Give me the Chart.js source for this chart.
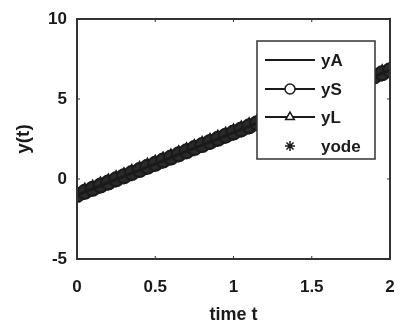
<!DOCTYPE html>
<html>
<head>
<meta charset="utf-8">
<script src="https://cdn.jsdelivr.net/npm/chart.js@4"></script>
<style>
  html, body { margin: 0; padding: 0; background: #fff; }
  #wrap { width: 400px; height: 330px; }
</style>
</head>
<body>
<div id="wrap"><canvas id="odeChart" width="400" height="330"></canvas></div>
<script>
// sample times
const tVals = [0, 0.05, 0.1, 0.15, 0.2, 0.25, 0.3, 0.35, 0.4, 0.45, 0.5, 0.55, 0.6, 0.65,
  0.7, 0.75, 0.8, 0.85, 0.9, 0.95, 1, 1.05, 1.1, 1.15, 1.2, 1.25, 1.3, 1.35, 1.4, 1.45,
  1.5, 1.55, 1.6, 1.65, 1.7, 1.75, 1.8, 1.85, 1.9, 1.95, 2];

// analytic solution and the numerical ones all lie on top of each other
const yA = [-1.00, -0.80, -0.61, -0.41, -0.22, -0.02, 0.17, 0.37, 0.56, 0.76, 0.95, 1.15,
  1.34, 1.54, 1.73, 1.93, 2.12, 2.32, 2.51, 2.71, 2.90, 3.10, 3.29, 3.49, 3.68, 3.88, 4.07,
  4.27, 4.46, 4.66, 4.85, 5.05, 5.24, 5.44, 5.63, 5.83, 6.02, 6.22, 6.41, 6.61, 6.80];
const yS = [-1.00, -0.80, -0.61, -0.41, -0.22, -0.02, 0.17, 0.37, 0.56, 0.76, 0.95, 1.15,
  1.34, 1.54, 1.73, 1.93, 2.12, 2.32, 2.51, 2.71, 2.90, 3.10, 3.29, 3.49, 3.68, 3.88, 4.07,
  4.27, 4.46, 4.66, 4.85, 5.05, 5.24, 5.44, 5.63, 5.83, 6.02, 6.22, 6.41, 6.61, 6.80];
const yL = [-1.00, -0.80, -0.61, -0.41, -0.22, -0.02, 0.17, 0.37, 0.56, 0.76, 0.95, 1.15,
  1.34, 1.54, 1.73, 1.93, 2.12, 2.32, 2.51, 2.71, 2.90, 3.10, 3.29, 3.49, 3.68, 3.88, 4.07,
  4.27, 4.46, 4.66, 4.85, 5.05, 5.24, 5.44, 5.63, 5.83, 6.02, 6.22, 6.41, 6.61, 6.80];
const yode = [-1.00, -0.80, -0.61, -0.41, -0.22, -0.02, 0.17, 0.37, 0.56, 0.76, 0.95, 1.15,
  1.34, 1.54, 1.73, 1.93, 2.12, 2.32, 2.51, 2.71, 2.90, 3.10, 3.29, 3.49, 3.68, 3.88, 4.07,
  4.27, 4.46, 4.66, 4.85, 5.05, 5.24, 5.44, 5.63, 5.83, 6.02, 6.22, 6.41, 6.61, 6.80];

const xTicks = [0, 0.5, 1, 1.5, 2];
const yTicks = [-5, 0, 5, 10];
const seriesNames = ["yA", "yS", "yL", "yode"];

const INK = "#1a1a1a";
const FONT = "'Liberation Sans', Arial, sans-serif";

function pts(ys) {
  return tVals.map((t, i) => ({ x: t, y: ys[i] }));
}

// MATLAB-like box, inward ticks and the legend inside the axes
const matlabBox = {
  id: "matlabBox",
  afterDraw(chart) {
    const ctx = chart.ctx;
    const a = chart.chartArea;
    const xs = chart.scales.x;
    const ys = chart.scales.y;
    ctx.save();
    ctx.strokeStyle = "#333";
    ctx.lineWidth = 2;
    ctx.strokeRect(a.left, a.top, a.right - a.left, a.bottom - a.top);
    ctx.lineWidth = 1;
    xTicks.forEach((v) => {
      const px = xs.getPixelForValue(v);
      ctx.beginPath();
      ctx.moveTo(px, a.bottom); ctx.lineTo(px, a.bottom - 3);
      ctx.moveTo(px, a.top); ctx.lineTo(px, a.top + 3);
      ctx.stroke();
    });
    yTicks.forEach((v) => {
      const py = ys.getPixelForValue(v);
      ctx.beginPath();
      ctx.moveTo(a.left, py); ctx.lineTo(a.left + 3, py);
      ctx.moveTo(a.right, py); ctx.lineTo(a.right - 3, py);
      ctx.stroke();
    });

    // legend
    const bx = 257, by = 41, bw = 118, bh = 118;
    ctx.fillStyle = "#fff";
    ctx.fillRect(bx, by, bw, bh);
    ctx.strokeStyle = "#333";
    ctx.lineWidth = 1.5;
    ctx.strokeRect(bx, by, bw, bh);
    const rowsY = [60, 89, 117, 146];
    ctx.font = "bold 17px " + FONT;
    ctx.textBaseline = "middle";
    ctx.textAlign = "left";
    seriesNames.forEach((name, i) => {
      const y = rowsY[i];
      ctx.strokeStyle = INK;
      ctx.lineWidth = 2;
      if (i < 3) {
        ctx.beginPath();
        ctx.moveTo(265, y); ctx.lineTo(315, y);
        ctx.stroke();
      }
      const ds = chart.data.datasets[i];
      if (i > 0) {
        ctx.fillStyle = "#fff";
        ctx.strokeStyle = INK;
        ctx.lineWidth = 1.5;
        Chart.helpers.drawPoint(ctx, {
          pointStyle: ds.pointStyle,
          radius: 5,
          borderWidth: 1.5,
        }, 290, y);
      }
      ctx.fillStyle = INK;
      ctx.fillText(name, 321, y + 1);
    });
    ctx.restore();
  },
};

const ctx = document.getElementById("odeChart").getContext("2d");
new Chart(ctx, {
  type: "scatter",
  data: {
    datasets: [
      {
        label: "yA",
        data: pts(yA),
        showLine: true,
        borderColor: INK,
        borderWidth: 3,
        pointRadius: 0,
      },
      {
        label: "yS",
        data: pts(yS),
        showLine: true,
        borderColor: INK,
        borderWidth: 2,
        pointStyle: "circle",
        pointRadius: 7,
        pointBorderWidth: 2,
        pointBorderColor: INK,
        pointBackgroundColor: "#2a2a2a",
      },
      {
        label: "yL",
        data: pts(yL),
        showLine: true,
        borderColor: INK,
        borderWidth: 2,
        pointStyle: "triangle",
        pointRadius: 8,
        pointBorderWidth: 2,
        pointBorderColor: INK,
        pointBackgroundColor: "#2a2a2a",
      },
      {
        label: "yode",
        data: pts(yode),
        showLine: false,
        pointStyle: "star",
        pointRadius: 7,
        pointBorderWidth: 2,
        pointBorderColor: INK,
      },
    ],
  },
  options: {
    responsive: false,
    animation: false,
    layout: { padding: { top: 19, right: 6, left: 0, bottom: 0 } },
    plugins: {
      legend: { display: false },
      tooltip: { enabled: false },
    },
    scales: {
      x: {
        type: "linear",
        min: 0,
        max: 2,
        afterBuildTicks(scale) {
          scale.ticks = xTicks.map((v) => ({ value: v }));
        },
        afterFit(scale) {
          scale.height = 71;
          scale.paddingRight = 0;
          scale.paddingLeft = 0;
        },
        grid: { display: false },
        border: { display: false },
        ticks: {
          color: INK,
          padding: 10,
          maxRotation: 0,
          font: { family: FONT, size: 17, weight: "bold" },
          callback: (v) => String(v),
        },
        title: {
          display: true,
          text: "time t",
          color: INK,
          padding: { top: 6 },
          font: { family: FONT, size: 18, weight: "bold" },
        },
      },
      y: {
        type: "linear",
        min: -5,
        max: 10,
        afterBuildTicks(scale) {
          scale.ticks = yTicks.map((v) => ({ value: v }));
        },
        afterFit(scale) {
          scale.width = 77;
          scale.paddingTop = 0;
          scale.paddingBottom = 0;
        },
        grid: { display: false },
        border: { display: false },
        ticks: {
          color: INK,
          padding: 2,
          font: { family: FONT, size: 17, weight: "bold" },
        },
        title: {
          display: true,
          text: "y(t)",
          color: INK,
          padding: { top: 12, bottom: 0 },
          font: { family: FONT, size: 19, weight: "bold" },
        },
      },
    },
  },
  plugins: [matlabBox],
});
</script>
</body>
</html>
